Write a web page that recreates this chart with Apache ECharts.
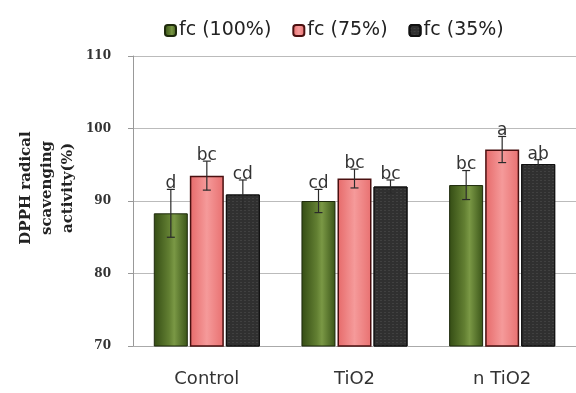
<!DOCTYPE html>
<html><head><meta charset="utf-8">
<script src="https://cdn.jsdelivr.net/npm/echarts@6/dist/echarts.min.js"></script>
<style>html,body{margin:0;padding:0;background:#fff}#c{width:576px;height:393px}</style>
</head><body><div id="c"></div>
<script>
const categories = ['Control', 'TiO2', 'n TiO2'];
const seriesNames = ['fc (100%)', 'fc (75%)', 'fc (35%)'];
const values100 = [88.3, 90.0, 92.2];
const values75 = [93.5, 93.1, 97.1];
const values35 = [90.9, 92.0, 95.1];
const errors100 = [3.3, 1.6, 2.0];
const errors75 = [2.0, 1.3, 1.8];
const errors35 = [2.0, 0.9, 0.6];
const letters100 = ['d', 'cd', 'bc'];
const letters75 = ['bc', 'bc', 'a'];
const letters35 = ['cd', 'bc', 'ab'];
const yTicks = [70, 80, 90, 100, 110];
const yTitle = 'DPPH radical\nscavenging\nactivity(%)';

const chart = echarts.init(document.getElementById('c'));
const BW = 34, STEP = 36;
const green = {type:'linear',x:0,y:0,x2:1,y2:0,colorStops:[
  {offset:0,color:'#344c14'},{offset:0.45,color:'#627f32'},{offset:0.6,color:'#7a9845'},{offset:1,color:'#3a5418'}]};
const pink = {type:'linear',x:0,y:0,x2:1,y2:0,colorStops:[
  {offset:0,color:'#e66a6a'},{offset:0.5,color:'#f59a9a'},{offset:1,color:'#e87070'}]};
const allVals = [values100, values75, values35];
const allErr = [errors100, errors75, errors35];
const allLet = [letters100, letters75, letters35];
const SANS = '"DejaVu Sans", sans-serif';
const SERIF = '"DejaVu Serif", serif';

function errSeries(k) {
  const data = categories.map((c, i) => [i, allVals[k][i], allErr[k][i]]);
  return {
    type: 'custom', z: 10, silent: true,
    data: data,
    renderItem: function (params, api) {
      const i = api.value(0), v = api.value(1), e = api.value(2);
      const top = api.coord([i, v + e]);
      const bot = api.coord([i, v - e]);
      const x = top[0] + (k - 1) * STEP;
      const cap = 4;
      const st = {stroke: '#2a2a2a', lineWidth: 1.2};
      return {type: 'group', children: [
        {type: 'line', shape: {x1: x, y1: top[1], x2: x, y2: bot[1]}, style: st},
        {type: 'line', shape: {x1: x - cap, y1: top[1], x2: x + cap, y2: top[1]}, style: st},
        {type: 'line', shape: {x1: x - cap, y1: bot[1], x2: x + cap, y2: bot[1]}, style: st},
        {type: 'text', x: x, y: top[1] + 3, style: {text: allLet[k][i], fill: '#333', font: '17px ' + SANS, align: 'center', verticalAlign: 'bottom'}}
      ]};
    }
  };
}

chart.setOption({
  animation: false,
  legend: {
    top: 16, left: 159, itemWidth: 11, itemHeight: 11, itemGap: 21,
    textStyle: {fontFamily: SANS, fontSize: 19, color: '#222', padding: [0,0,0,-2]},
    data: seriesNames
  },
  graphic: [{
    type: 'text', x: 47, y: 188, rotation: Math.PI / 2,
    style: {text: yTitle, font: 'bold 15px ' + SERIF, fill: '#222', align: 'center', verticalAlign: 'middle', lineHeight: 21}
  }],
  grid: {left: 133, top: 56, width: 450, height: 290},
  xAxis: {
    type: 'category', data: categories,
    axisLine: {lineStyle: {color: '#aaa'}},
    axisTick: {show: false},
    axisLabel: {margin: 24, fontFamily: SANS, fontSize: 18, color: '#333'}
  },
  yAxis: {
    type: 'value', min: 70, max: 110, interval: 10,
    axisLine: {show: true, lineStyle: {color: '#999'}},
    axisTick: {show: true, length: 5, lineStyle: {color: '#999'}},
    axisLabel: {margin: 22, fontFamily: SERIF, fontWeight: 'bold', fontSize: 12, color: '#333',
      formatter: v => yTicks.includes(v) ? String(v) : ''},
    splitLine: {lineStyle: {color: '#bbb'}}
  },
  series: [
    {name: seriesNames[0], type: 'bar', data: values100, barWidth: BW, barGap: '6%',
      itemStyle: {color: green, borderColor: '#1e2a0c', borderWidth: 1}},
    {name: seriesNames[1], type: 'bar', data: values75, barWidth: BW, barGap: '6%',
      itemStyle: {color: pink, borderColor: '#4a1010', borderWidth: 1.5}},
    {name: seriesNames[2], type: 'bar', data: values35, barWidth: BW, barGap: '6%',
      itemStyle: {color: '#303030', borderColor: '#111', borderWidth: 1,
        decal: {symbol: 'rect', symbolSize: 0.5, color: 'rgba(170,170,170,0.55)', dashArrayX: [2, 2], dashArrayY: [1, 2], rotation: 0}}},
    errSeries(0), errSeries(1), errSeries(2)
  ]
});
</script></body></html>
